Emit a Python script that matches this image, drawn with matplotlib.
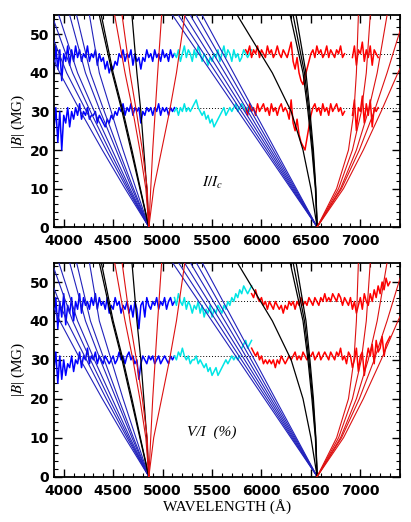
"""
Zeeman component curves (|B| vs wavelength) for H-beta and H-alpha,
with I/Ic and V/I spectra overplotted. Saves out.png.
"""
import numpy as np
import matplotlib
matplotlib.use('Agg')
import matplotlib.pyplot as plt
from matplotlib.ticker import MultipleLocator

plt.rcParams['mathtext.fontset'] = 'stix'

STEP = 20
B_GRID = [0, 10, 20, 30, 40, 55]

# --- Zeeman components, wavelengths at B_GRID ---
HB_BLUE = [[4861, 4620, 4390, 4170, 3960, 3700],
           [4861, 4640, 4430, 4230, 4030, 3800],
           [4861, 4655, 4460, 4270, 4090, 3880],
           [4861, 4670, 4490, 4310, 4140, 3950],
           [4861, 4690, 4530, 4370, 4220, 4060],
           [4861, 4705, 4555, 4410, 4270, 4130],
           [4861, 4730, 4600, 4480, 4360, 4260]]
HB_BLACK = [[4861, 4775, 4690, 4600, 4500, 4380],
            [4861, 4770, 4680, 4590, 4490, 4360],
            [4861, 4840, 4810, 4780, 4740, 4690]]
HB_RED = [[4861, 4830, 4770, 4700, 4620, 4515],
          [4861, 4845, 4795, 4735, 4670, 4590],
          [4861, 4880, 4900, 4925, 4950, 4990],
          [4861, 4910, 4990, 5070, 5140, 5225]]
HA_BLUE = [[6563, 6297, 6031, 5765, 5499, 5100],
           [6563, 6308, 6053, 5798, 5543, 5160],
           [6563, 6319, 6075, 5830, 5586, 5220],
           [6563, 6330, 6096, 5863, 5630, 5280],
           [6563, 6341, 6118, 5896, 5674, 5340],
           [6563, 6352, 6140, 5929, 5717, 5400]]
HA_BLACK = [[6563, 6500, 6420, 6300, 6110, 5755],
            [6563, 6545, 6510, 6470, 6420, 6290],
            [6563, 6548, 6518, 6480, 6435, 6320],
            [6563, 6550, 6525, 6490, 6450, 6350]]
HA_RED = [[6563, 6760, 6880, 6935, 6960, 6980],
          [6563, 6780, 6920, 7010, 7060, 7100],
          [6563, 6800, 6960, 7080, 7170, 7270],
          [6563, 6810, 6990, 7140, 7270, 7450],
          [6563, 6830, 7030, 7210, 7380, 7650]]

# --- spectra (offset to |B| scale), sampled every STEP A ---
# top panel (I/Ic)
TOPU_BLUE = [39, 47, 41, 46, 38, 45, 43, 47, 42, 46, 43, 47, 44, 46, 43, 45, 44, 47, 43, 45,
             44, 46, 42, 45, 43, 44, 41, 43, 40, 42, 41, 43, 42, 45, 44, 46, 43, 45, 44, 46,
             42, 45, 43, 44, 41, 44, 43, 46, 44, 45, 43, 46, 44, 45, 43, 46, 44, 45, 43, 46,
             44, 45]
TOPU_CYAN = [45, 44, 46, 43, 45, 47, 44, 46, 45, 43, 46, 44, 47, 45, 43, 45, 44, 42, 44, 43,
             45, 44, 46, 43, 45, 47, 44, 46, 45, 43, 46, 44, 45, 43, 44, 46, 45, 44, 45, 46]
TOPU_RED = [46, 45, 47, 44, 46, 45, 47, 44, 46, 45, 44, 47, 45, 46, 44, 45, 47, 45, 44, 46,
            45, 44, 46, 48, 43, 41, 44, 40, 38, 37, 39, 41, 43, 45, 46, 44, 47, 45, 46, 44,
            45, 47, 44, 46, 45, 44, 46, 45, 47, 44, 45]
TOPU_RED2 = [44, 47, 42, 46, 45, 48, 43, 46, 44, 47, 42, 46, 45, 44]
TOPL_BLUE = [25, 31, 22, 30, 20, 29, 27, 31, 26, 30, 28, 31, 29, 32, 28, 30, 29, 31, 28, 29,
             29, 30, 27, 29, 28, 27, 26, 28, 27, 29, 28, 30, 29, 31, 30, 32, 29, 31, 30, 32,
             29, 31, 30, 31, 27, 30, 29, 31, 30, 31, 29, 31, 30, 32, 29, 31, 30, 31, 29, 31,
             30, 31]
TOPL_CYAN = [30, 31, 29, 31, 30, 32, 30, 31, 30, 31, 32, 33, 31, 30, 29, 30, 28, 29, 27, 28,
             26, 27, 28, 29, 30, 31, 29, 30, 31, 30, 31, 32, 30, 31, 32, 31, 30, 31, 30, 31]
TOPL_RED = [31, 29, 32, 30, 31, 29, 32, 30, 31, 32, 30, 31, 29, 32, 30, 31, 29, 31, 32, 30,
            31, 30, 28, 33, 27, 25, 28, 24, 22, 21, 20, 23, 26, 29, 31, 32, 30, 31, 29, 32,
            30, 31, 29, 32, 30, 31, 32, 30, 31, 29, 30]
TOPL_RED2 = [29, 33, 25, 31, 30, 34, 27, 32, 29, 33, 26, 31, 30, 31]

# bottom panel (V/I)
BOTU_BLUE = [40, 46, 38, 45, 41, 47, 39, 44, 42, 46, 40, 45, 43, 47, 42, 46, 44, 45, 43, 46,
             44, 47, 43, 46, 44, 45, 43, 46, 42, 44, 43, 46, 44, 45, 42, 44, 43, 45, 42, 44,
             41, 45, 43, 38, 44, 45, 41, 46, 44, 43, 45, 44, 46, 43, 45, 44, 46, 43, 45, 46,
             44, 45]
BOTU_CYAN = [46, 44, 47, 45, 44, 46, 43, 45, 44, 42, 44, 43, 45, 42, 44, 41, 43, 42, 44, 41,
             43, 42, 44, 43, 42, 44, 43, 45, 44, 46, 45, 47, 46, 48, 47, 49, 48, 47, 48, 49]
BOTU_RED = [47, 46, 48, 46, 45, 46, 44, 45, 43, 45, 44, 43, 45, 44, 43, 44, 42, 44, 43, 45,
            44, 45, 43, 45, 44, 46, 44, 45, 44, 46, 45, 44, 46, 45, 44, 46, 45, 47, 45, 46,
            45, 47, 46, 45, 47, 46, 44, 46, 45, 44, 46, 43, 45, 42, 44, 46, 43, 47, 45, 44,
            47, 45, 48, 46, 49, 47, 50, 48, 51, 49, 50]
BOTL_BLUE = [27, 32, 24, 31, 25, 30, 26, 29, 28, 31, 27, 30, 29, 32, 28, 31, 30, 33, 29, 31,
             30, 32, 29, 31, 30, 29, 31, 30, 29, 30, 31, 29, 30, 32, 30, 31, 29, 31, 32, 30,
             31, 29, 30, 25, 29, 31, 30, 29, 31, 30, 31, 29, 30, 31, 29, 30, 31, 30, 29, 31,
             30, 31]
BOTL_CYAN = [31, 30, 32, 31, 33, 31, 30, 31, 29, 30, 30, 31, 29, 30, 29, 28, 29, 27, 28, 26,
             27, 28, 26, 27, 28, 29, 30, 29, 30, 31, 30, 31, 30, 31]
BOTL_CYAN2 = [33, 34, 35, 33, 34, 35]
BOTL_RED = [33, 32, 31, 32, 30, 31, 29, 30, 29, 30, 29, 30, 28, 30, 29, 31, 30, 29, 30, 31,
            30, 31, 32, 30, 31, 30, 32, 31, 30, 31, 31, 32, 30, 31, 32, 30, 31, 32, 31, 30,
            32, 31, 30, 32, 31, 33, 30, 31, 29, 32, 31, 28, 30, 33, 27, 31, 32, 26, 30, 33,
            31, 34, 29, 35, 32, 33, 36, 31, 34, 35, 36]

TOP_SPEC = [(3900, TOPU_BLUE, 'blue'), (5120, TOPU_CYAN, 'cyan'), (5840, TOPU_RED, 'red'),
            (6920, TOPU_RED2, 'red'),
            (3900, TOPL_BLUE, 'blue'), (5120, TOPL_CYAN, 'cyan'), (5840, TOPL_RED, 'red'),
            (6920, TOPL_RED2, 'red')]
BOT_SPEC = [(3900, BOTU_BLUE, 'blue'), (5120, BOTU_CYAN, 'cyan'), (5900, BOTU_RED, 'red'),
            (3900, BOTL_BLUE, 'blue'), (5120, BOTL_CYAN, 'cyan'), (5800, BOTL_CYAN2, 'cyan'),
            (5900, BOTL_RED, 'red')]

SPEC_COL = {'blue': '#0000ff', 'cyan': '#00e5e5', 'red': '#ff0000'}
SERIF = ['Liberation Serif', 'DejaVu Serif']

fig = plt.figure(figsize=(4.11, 5.22), dpi=100)
ax1 = fig.add_axes([0.131, 0.565, 0.842, 0.406])
ax2 = fig.add_axes([0.131, 0.087, 0.842, 0.410])


def draw(ax, spectra, label):
    for y in (45, 31):
        ax.axhline(y, color='k', ls=(0, (1, 2)), lw=0.7, zorder=1)
    for x0, vals, c in spectra:
        xs = x0 + STEP * np.arange(len(vals))
        ax.plot(xs, vals, color=SPEC_COL[c], lw=1.1, zorder=2)
    for group, col, lw in [(HB_BLUE, '#2222bb', 0.8), (HA_BLUE, '#2222bb', 0.8),
                           (HB_BLACK, 'k', 0.9), (HA_BLACK, 'k', 0.9),
                           (HB_RED, '#dd1111', 0.8), (HA_RED, '#dd1111', 0.8)]:
        for lam in group:
            ax.plot(lam, B_GRID, color=col, lw=lw, zorder=3)
    ax.set_xlim(3900, 7400)
    ax.set_ylim(0, 55)
    ax.xaxis.set_major_locator(MultipleLocator(500))
    ax.xaxis.set_minor_locator(MultipleLocator(100))
    ax.yaxis.set_major_locator(MultipleLocator(10))
    ax.yaxis.set_minor_locator(MultipleLocator(2))
    ax.tick_params(which='both', direction='in', top=True, right=True)
    ax.tick_params(which='major', length=6, width=1.0, labelsize=10)
    ax.tick_params(which='minor', length=3, width=0.8)
    ax.tick_params(axis='x', pad=5)
    for t in ax.get_xticklabels() + ax.get_yticklabels():
        t.set_fontweight('bold')
    for s in ax.spines.values():
        s.set_linewidth(1.3)
    ax.set_ylabel(r'|$B$| (MG)', family=SERIF, fontsize=11, labelpad=2)
    ax.text(5500, 10.5, label, family=SERIF, style='italic', fontsize=11, ha='center')


draw(ax1, TOP_SPEC, r'$I/I_c$')
draw(ax2, BOT_SPEC, 'V/I  (%)')
ax2.set_xlabel('WAVELENGTH (Å)', family=SERIF, fontsize=11, labelpad=1)

fig.savefig('out.png', dpi=100)
